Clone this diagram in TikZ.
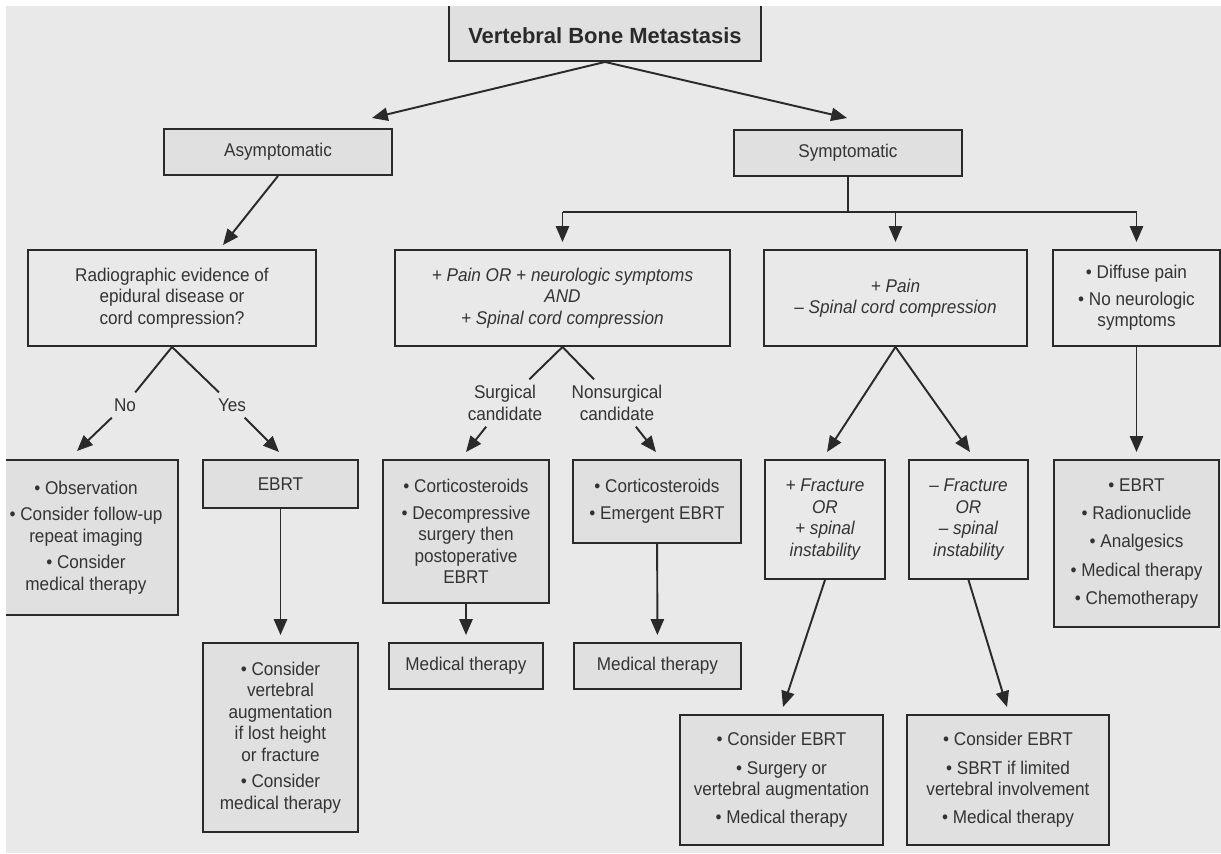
\documentclass[tikz,border=0pt]{standalone}
\usepackage{fontspec}
\setmainfont{Liberation Sans}[FakeStretch=0.93]
\newfontfamily\headfont{Liberation Sans}
\usetikzlibrary{arrows.meta}

\definecolor{paper}{HTML}{E9E9E9}
\definecolor{boxgray}{HTML}{E0E0E0}
\definecolor{ink}{HTML}{2A2A2A}
\definecolor{txt}{HTML}{333333}

\begin{document}
\begin{tikzpicture}[x=0.02cm, y=-0.02cm,
  every node/.style={font=\fontsize{10.5}{12.2}\selectfont, text=txt, align=center},
  base/.style={draw=ink, line width=1.1pt, inner sep=2pt},
  ask/.style={base, fill=paper},
  act/.style={base, fill=boxgray},
  cond/.style={font=\fontsize{10.5}{12.2}\selectfont\itshape},
  link/.style={draw=ink, line width=1.1pt},
  arr/.style={link, -{Triangle[length=9pt,width=7.5pt]}},
  gap/.style={shorten >=4pt}]
  \useasboundingbox (0,0) rectangle (1221,853);
  \fill[white] (0,0) rectangle (1221,853);
  \clip (6,6) rectangle (1221,853);
  \fill[paper] (6,6) rectangle (1221,853);

  % top of the tree (its upper edge runs off the page)
  \node[act, minimum width=6.24cm, minimum height=1.4cm, text=ink, text height=0.68cm, text depth=0pt,
        font=\headfont\bfseries\fontsize{12.5}{15}\selectfont] (top) at (605,26) {Vertebral Bone Metastasis};
  \node[act, minimum width=4.56cm, minimum height=0.92cm] (asym) at (278,152) {Asymptomatic};
  \node[act, minimum width=4.56cm, minimum height=0.92cm] (sym) at (848,153) {Symptomatic};

  % second level questions
  \node[ask, minimum width=5.76cm, minimum height=1.92cm] (rad) at (172,298)
    {Radiographic evidence of\\epidural disease or\\cord compression?};
  \node[ask, cond, minimum width=6.7cm, minimum height=1.92cm] (painor) at (562.5,298)
    {+ Pain OR + neurologic symptoms\\AND\\+ Spinal cord compression};
  \node[ask, cond, minimum width=5.26cm, minimum height=1.92cm] (painonly) at (895.5,298)
    {+ Pain\\– Spinal cord compression};
  \node[ask, minimum width=3.34cm, minimum height=1.92cm] (diffuse) at (1136.5,298)
    {• Diffuse pain\\[3pt]• No neurologic\\symptoms};

  % branch labels
  \node (no) at (125,405) {No};
  \node (yes) at (232,405) {Yes};
  \node (surgc) at (505,403) {Surgical\\candidate};
  \node (nonsurgc) at (617,403) {Nonsurgical\\candidate};

  % treatment boxes
  \node[act, minimum width=3.68cm, minimum height=3.1cm] (obs) at (86,537.5)
    {• Observation\\[3pt]• Consider follow-up\\repeat imaging\\[3pt]• Consider\\medical therapy};
  \node[act, minimum width=3.1cm, minimum height=0.96cm] (ebrt) at (280.5,484) {EBRT};
  \node[act, minimum width=3.1cm, minimum height=3.78cm] (aug) at (280.5,737.5)
    {• Consider\\vertebral\\augmentation\\if lost height\\or fracture\\[3pt]• Consider\\medical therapy};
  \node[act, minimum width=3.32cm, minimum height=2.86cm] (cort1) at (466,531.5)
    {• Corticosteroids\\[3pt]• Decompressive\\surgery then\\postoperative\\EBRT};
  \node[act, minimum width=3.36cm, minimum height=1.66cm] (cort2) at (657,501.5)
    {• Corticosteroids\\[3pt]• Emergent EBRT};
  \node[act, minimum width=3.08cm, minimum height=0.92cm] (med1) at (466,666) {Medical therapy};
  \node[act, minimum width=3.34cm, minimum height=0.92cm] (med2) at (657.5,666) {Medical therapy};
  \node[ask, cond, minimum width=2.4cm, minimum height=2.38cm] (fracp) at (825,519.5)
    {+ Fracture\\OR\\+ spinal\\instability};
  \node[ask, cond, minimum width=2.38cm, minimum height=2.38cm] (fracm) at (968.5,519.5)
    {– Fracture\\OR\\– spinal\\instability};
  \node[act, minimum width=3.3cm, minimum height=3.34cm] (ebrtr) at (1136.5,543.5)
    {• EBRT\\[4pt]• Radionuclide\\[4pt]• Analgesics\\[4pt]• Medical therapy\\[4pt]• Chemotherapy};
  \node[act, minimum width=4.06cm, minimum height=2.6cm] (surg) at (781.5,780)
    {• Consider EBRT\\[4pt]• Surgery or\\vertebral augmentation\\[4pt]• Medical therapy};
  \node[act, minimum width=4.04cm, minimum height=2.6cm] (sbrt) at (1008,780)
    {• Consider EBRT\\[4pt]• SBRT if limited\\vertebral involvement\\[4pt]• Medical therapy};

  % arrow ends that stop short of a box
  \coordinate (tipA) at (372,118);
  \coordinate (tipS) at (847,118);
  \coordinate (tipR) at (223,245);
  \coordinate (tipNo) at (77,451);
  \coordinate (tipYes) at (279,452);
  \coordinate (tipSc) at (466,452);
  \coordinate (tipNs) at (656,452);
  \coordinate (tipFp) at (827,452);
  \coordinate (tipFm) at (970,452);
  \coordinate (tipSu) at (783,707);
  \coordinate (tipSb) at (1007,707);
  \coordinate (bus) at (848,212);

  % connectors
  \draw[arr] (top.south) -- (tipA);
  \draw[arr] (top.south) -- (tipS);
  \draw[arr] (asym.south) -- (tipR);
  \draw[link] (sym.south) -- (bus);
  \draw[link] (bus -| painor.north) -- (bus -| diffuse.north);
  \foreach \n in {painor, painonly, diffuse}
    \draw[arr, gap] (bus -| \n.north) -- (\n.north);

  \draw[link] (rad.south) -- (no);
  \draw[arr] (no) -- (tipNo);
  \draw[link] (rad.south) -- (yes);
  \draw[arr] (yes) -- (tipYes);
  \draw[arr, gap] (ebrt) -- (aug);

  \draw[link] (painor.south) -- (surgc);
  \draw[arr] (surgc) -- (tipSc);
  \draw[link] (painor.south) -- (nonsurgc);
  \draw[arr] (nonsurgc) -- (tipNs);
  \draw[arr, gap] (cort1) -- (med1);
  \draw[arr, gap] (cort2) -- (med2);

  \draw[arr] (painonly.south) -- (tipFp);
  \draw[arr] (painonly.south) -- (tipFm);
  \draw[arr] (fracp.south) -- (tipSu);
  \draw[arr] (fracm.south) -- (tipSb);
  \draw[arr, gap] (diffuse) -- (ebrtr);
\end{tikzpicture}
\end{document}
